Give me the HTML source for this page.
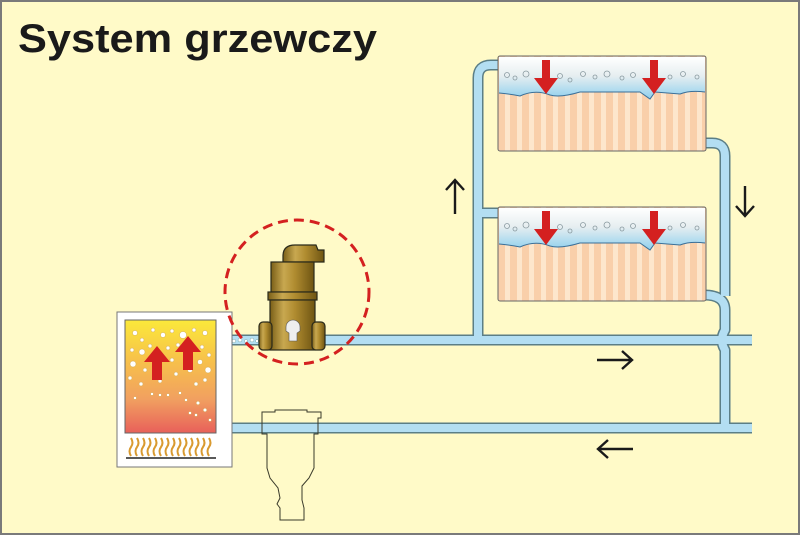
<!DOCTYPE html>
<html><head><meta charset="utf-8"><style>
html,body{margin:0;padding:0;background:#fffac8;}
svg{display:block}
</style></head><body>
<svg width="800" height="535" viewBox="0 0 800 535" xmlns="http://www.w3.org/2000/svg">
<defs>
<linearGradient id="boil" x1="0" y1="0" x2="0" y2="1">
<stop offset="0" stop-color="#fbe93a"/><stop offset="0.35" stop-color="#f7c24a"/><stop offset="0.7" stop-color="#f1a060"/><stop offset="1" stop-color="#e8605a"/>
</linearGradient>
<linearGradient id="wat" x1="0" y1="0" x2="0" y2="1">
<stop offset="0" stop-color="#ffffff"/><stop offset="0.45" stop-color="#e6eef0"/><stop offset="1" stop-color="#8fd0ee"/>
</linearGradient>
<linearGradient id="brass" x1="0" y1="0" x2="1" y2="0">
<stop offset="0" stop-color="#7a5f18"/><stop offset="0.3" stop-color="#c8a850"/><stop offset="0.55" stop-color="#b08c30"/><stop offset="1" stop-color="#6e5412"/>
</linearGradient>
<pattern id="stripes" x="498" y="0" width="12" height="10" patternUnits="userSpaceOnUse">
<rect width="12" height="10" fill="#f9cfaa"/><rect x="7" width="5" height="10" fill="#fde6cc"/>
</pattern>
</defs>
<rect x="1" y="1" width="798" height="533" fill="#fffac8" stroke="#7a7a7a" stroke-width="2"/>
<text x="18" y="52" font-family="Liberation Sans, sans-serif" font-weight="bold" font-size="40" fill="#1a1a1a" textLength="359" lengthAdjust="spacingAndGlyphs">System grzewczy</text>

<g fill="none" stroke-linejoin="round" stroke-linecap="butt">
<g stroke="#5b7e86" stroke-width="11">
<path d="M216 340 H752"/>
<path d="M216 428 H752"/>
<path d="M478 340 V78 Q478 65 491 65 H500"/>
<path d="M478 213 H500"/>
<path d="M704 143 H712 Q725 143 725 156 V296"/>
<path d="M704 295 Q725 295 725 310 V330 Q719 340 725 350 V428"/>
</g>
<g stroke="#b3def2" stroke-width="8">
<path d="M216 340 H752"/>
<path d="M216 428 H752"/>
<path d="M478 340 V78 Q478 65 491 65 H500"/>
<path d="M478 213 H500"/>
<path d="M704 143 H712 Q725 143 725 156 V296"/>
<path d="M704 295 Q725 295 725 310 V330 Q719 340 725 350 V428"/>
</g>
</g>
<g fill="#fff" stroke="#7aa" stroke-width="0.5">
<circle cx="222" cy="340" r="2"/><circle cx="228" cy="340" r="2.2"/><circle cx="234" cy="341" r="1.8"/><circle cx="240" cy="340" r="2"/><circle cx="246" cy="341" r="1.6"/><circle cx="252" cy="340" r="2"/><circle cx="257" cy="341" r="1.5"/>
</g>

<g>
<rect x="498" y="56" width="208" height="95" rx="2" fill="url(#stripes)" stroke="#666" stroke-width="1"/>
<path d="M499 57 H705 V92 Q690 90 680 94 L655 92 L650 99 L640 92 Q600 92 580 92 Q560 98 550 95 Q535 89 520 96 Q510 94 499 93 Z" fill="url(#wat)"/>
<path d="M499 93 Q510 94 520 96 Q535 89 550 95 Q560 98 580 92 Q600 92 640 92 L650 99 L655 92 L680 94 Q690 90 705 92" fill="none" stroke="#3a6f98" stroke-width="1"/>
<rect x="498" y="207" width="208" height="94" rx="2" fill="url(#stripes)" stroke="#666" stroke-width="1"/>
<path d="M499 208 H705 V243 Q690 241 680 245 L655 243 L650 250 L640 243 Q600 243 580 243 Q560 249 550 246 Q535 240 520 247 Q510 245 499 244 Z" fill="url(#wat)"/>
<path d="M499 244 Q510 245 520 247 Q535 240 550 246 Q560 249 580 243 Q600 243 640 243 L650 250 L655 243 L680 245 Q690 241 705 243" fill="none" stroke="#3a6f98" stroke-width="1"/>
<g fill="none" stroke="#8a9aa0" stroke-width="0.8">
<circle cx="507" cy="75" r="2.5"/><circle cx="515" cy="78" r="2"/><circle cx="526" cy="74" r="3"/><circle cx="560" cy="76" r="2.5"/><circle cx="570" cy="80" r="2"/><circle cx="583" cy="74" r="2.5"/><circle cx="595" cy="77" r="2"/><circle cx="607" cy="74" r="3"/><circle cx="622" cy="78" r="2"/><circle cx="633" cy="75" r="2.5"/><circle cx="670" cy="77" r="2"/><circle cx="683" cy="74" r="2.5"/><circle cx="697" cy="77" r="2"/>
<circle cx="507" cy="226" r="2.5"/><circle cx="515" cy="229" r="2"/><circle cx="526" cy="225" r="3"/><circle cx="560" cy="227" r="2.5"/><circle cx="570" cy="231" r="2"/><circle cx="583" cy="225" r="2.5"/><circle cx="595" cy="228" r="2"/><circle cx="607" cy="225" r="3"/><circle cx="622" cy="229" r="2"/><circle cx="633" cy="226" r="2.5"/><circle cx="670" cy="228" r="2"/><circle cx="683" cy="225" r="2.5"/><circle cx="697" cy="228" r="2"/>
</g>
<g fill="#d42020">
<path d="M542 60 h8 v18 h8 l-12 16 l-12 -16 h8 z"/>
<path d="M650 60 h8 v18 h8 l-12 16 l-12 -16 h8 z"/>
<path d="M542 211 h8 v18 h8 l-12 16 l-12 -16 h8 z"/>
<path d="M650 211 h8 v18 h8 l-12 16 l-12 -16 h8 z"/>
</g>
</g>

<g stroke="#1a1a1a" stroke-width="2.4" fill="none">
<path d="M455 214 V180 M446 190 L455 180 L464 190"/>
<path d="M745 186 V216 M736 206 L745 216 L754 206"/>
<path d="M597 360 H632 M622 351 L632 360 L622 369"/>
<path d="M598 449 H633 M608 440 L598 449 L608 458"/>
</g>

<rect x="117" y="312" width="115" height="155" fill="#fff" stroke="#777" stroke-width="1"/>
<rect x="125" y="320" width="91" height="113" fill="url(#boil)" stroke="#666" stroke-width="1"/>
<g fill="#fff" stroke="#c9a040" stroke-width="0.4">
<circle cx="135" cy="333" r="2.5"/><circle cx="142" cy="340" r="2"/><circle cx="153" cy="330" r="2"/><circle cx="163" cy="335" r="2.5"/><circle cx="172" cy="331" r="2"/><circle cx="183" cy="335" r="3.5"/><circle cx="194" cy="330" r="2"/><circle cx="205" cy="333" r="2.5"/>
<circle cx="132" cy="350" r="2"/><circle cx="142" cy="352" r="3"/><circle cx="150" cy="346" r="2"/><circle cx="168" cy="348" r="2"/><circle cx="178" cy="345" r="2"/><circle cx="202" cy="347" r="2"/><circle cx="209" cy="355" r="2"/>
<circle cx="133" cy="364" r="3"/><circle cx="145" cy="370" r="2"/><circle cx="172" cy="360" r="2"/><circle cx="200" cy="362" r="2.5"/><circle cx="208" cy="370" r="3"/>
<circle cx="130" cy="378" r="2"/><circle cx="141" cy="384" r="2"/><circle cx="160" cy="381" r="2"/><circle cx="176" cy="374" r="2"/><circle cx="190" cy="370" r="2.5"/><circle cx="196" cy="384" r="2"/><circle cx="205" cy="380" r="2"/>
<circle cx="135" cy="398" r="1.5"/><circle cx="152" cy="394" r="1.5"/><circle cx="160" cy="395" r="1.5"/><circle cx="168" cy="395" r="1.5"/><circle cx="180" cy="393" r="1.5"/><circle cx="186" cy="400" r="1.5"/><circle cx="198" cy="403" r="1.8"/><circle cx="205" cy="410" r="1.8"/><circle cx="190" cy="413" r="1.5"/><circle cx="196" cy="415" r="1.5"/><circle cx="210" cy="420" r="1.5"/>
</g>
<g fill="#d42020">
<path d="M152 380 v-18 h-8 l13 -16 l13 16 h-8 v18 z"/>
<path d="M183 370 v-18 h-8 l13 -16 l13 16 h-8 v18 z"/>
</g>
<g fill="none" stroke="#d99a30" stroke-width="2">
<path d="M131 456 q-3 -5 0 -9 q3 -4 0 -9"/><path d="M137 456 q-3 -5 0 -9 q3 -4 0 -9"/><path d="M143 456 q-3 -5 0 -9 q3 -4 0 -9"/><path d="M149 456 q-3 -5 0 -9 q3 -4 0 -9"/><path d="M155 456 q-3 -5 0 -9 q3 -4 0 -9"/><path d="M161 456 q-3 -5 0 -9 q3 -4 0 -9"/><path d="M167 456 q-3 -5 0 -9 q3 -4 0 -9"/><path d="M173 456 q-3 -5 0 -9 q3 -4 0 -9"/><path d="M179 456 q-3 -5 0 -9 q3 -4 0 -9"/><path d="M185 456 q-3 -5 0 -9 q3 -4 0 -9"/><path d="M191 456 q-3 -5 0 -9 q3 -4 0 -9"/><path d="M197 456 q-3 -5 0 -9 q3 -4 0 -9"/><path d="M203 456 q-3 -5 0 -9 q3 -4 0 -9"/><path d="M209 456 q-3 -5 0 -9 q3 -4 0 -9"/>
</g>
<line x1="126" y1="458" x2="216" y2="458" stroke="#222" stroke-width="1.5"/>

<circle cx="297" cy="292" r="72" fill="none" stroke="#d42020" stroke-width="3" stroke-dasharray="10 6"/>
<g stroke="#2a2a1a" stroke-width="1.2">
<path d="M283 262 V256 Q283 245 295 245 H316 L318 250 H324 V262 L316 262 Z" fill="url(#brass)"/>
<rect x="271" y="262" width="43" height="30" fill="url(#brass)"/>
<rect x="268" y="292" width="49" height="8" fill="url(#brass)"/>
<rect x="270" y="300" width="45" height="50" fill="url(#brass)"/>
<rect x="259" y="322" width="13" height="28" rx="4" fill="url(#brass)"/>
<rect x="312" y="322" width="13" height="28" rx="4" fill="url(#brass)"/>
</g>
<path d="M286 327 a7 7 0 0 1 14 0 v4 l-3 2 v8 h-8 v-8 l-3 -2 z" fill="#eee" stroke="#555" stroke-width="0.6"/>

<path d="M262 412 H275 V410 H307 V412 H321 V418 H318 V434 H314 V444 V468 L309 478 L302 486 V500 L304 508 V520 H280 V508 L277 504 L280 498 L278 488 L270 478 L267 468 V444 V434 H262 Z" fill="none" stroke="#3a3a2a" stroke-width="1"/>
</svg>
</body></html>
